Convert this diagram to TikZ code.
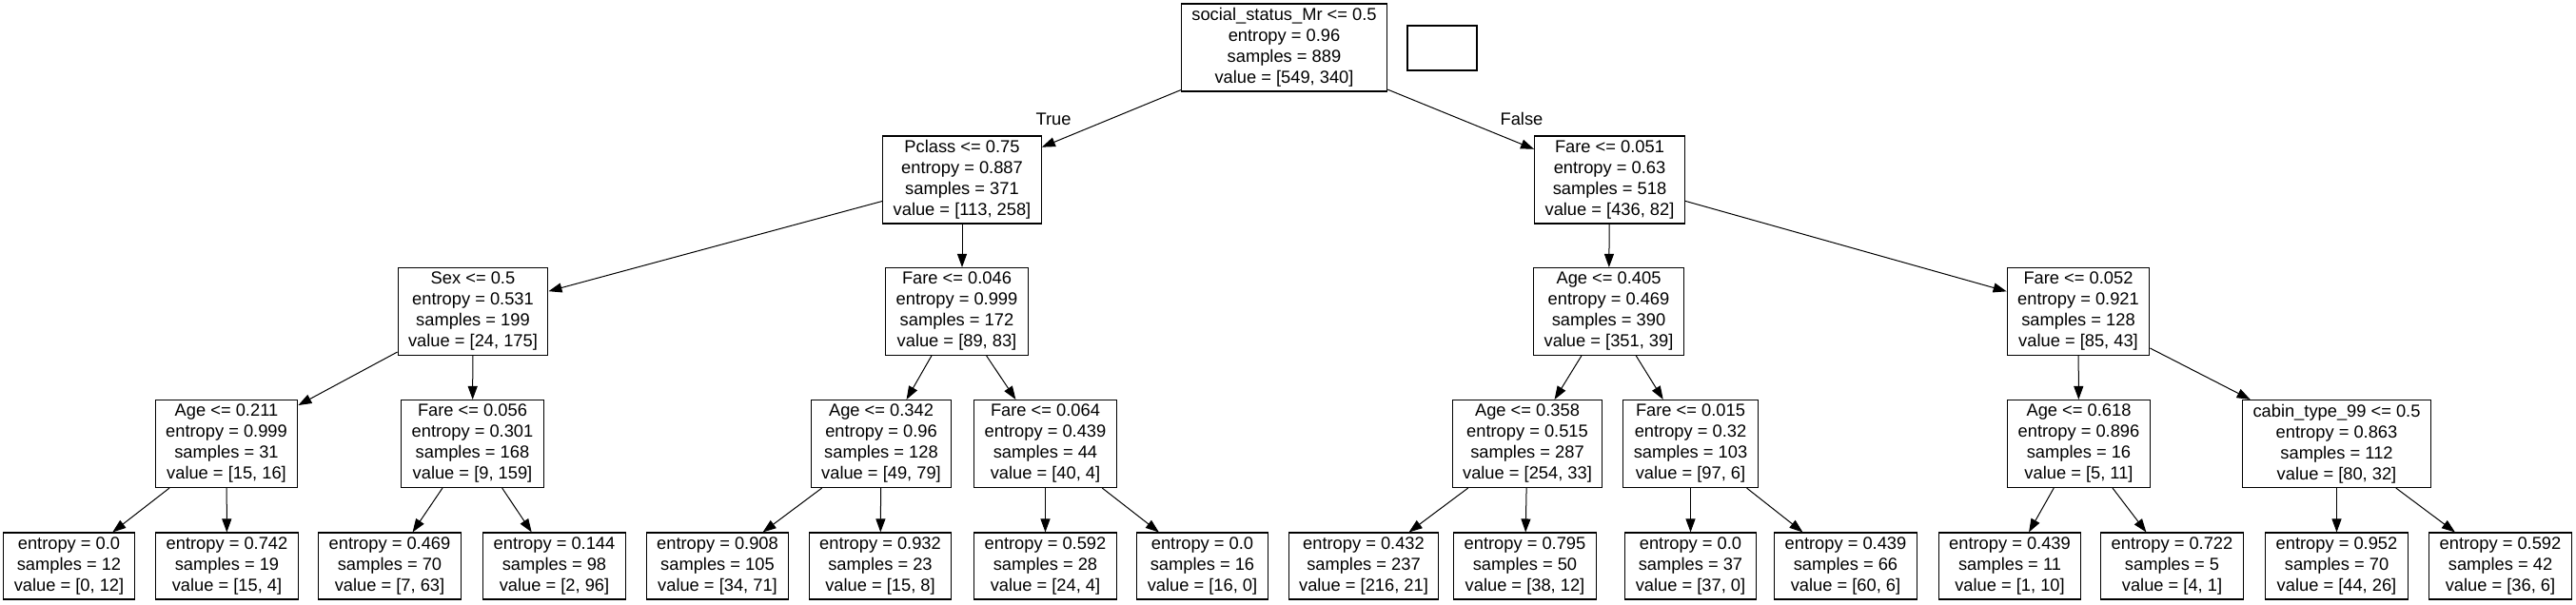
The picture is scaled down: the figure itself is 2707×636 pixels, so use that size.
\documentclass[tikz,border=0pt]{standalone}
\usepackage{fontspec}
\setmainfont{Liberation Sans}
\usepackage{tikz}
\usetikzlibrary{arrows.meta}
\newcommand{\treefont}{\fontsize{18.3}{22}\selectfont}
\tikzset{
  decision/.style={
    draw, line width=1.1pt, align=center,
    inner xsep=11pt, inner ysep=0pt,
    minimum height=92pt, font=\treefont
  },
  leaf/.style={decision, minimum height=70pt},
  emptybox/.style={draw, line width=1.1pt, minimum width=73pt, minimum height=47pt},
  link/.style={-{Triangle[length=14pt, width=10pt]}, line width=1pt},
  lbl/.style={font=\treefont},
}

\begin{document}
\begin{tikzpicture}[x=1pt, y=-1pt]
\useasboundingbox (0,0) rectangle (2707,636);
\fill[white] (0,0) rectangle (2707,636);

% --- root and the empty box beside it ---
\node[decision] (root) at (1349.5,50) {social\_status\_Mr <= 0.5\\entropy = 0.96\\samples = 889\\value = [549, 340]};
\node[emptybox] (blank) at (1515.5,50.5) {};

% --- depth 1 ---
\node[decision] (pclass) at (1011,189) {Pclass <= 0.75\\entropy = 0.887\\samples = 371\\value = [113, 258]};
\node[decision] (fareA) at (1691.5,189) {Fare <= 0.051\\entropy = 0.63\\samples = 518\\value = [436, 82]};

% --- depth 2 ---
\node[decision] (sex) at (497,327.5) {Sex <= 0.5\\entropy = 0.531\\samples = 199\\value = [24, 175]};
\node[decision] (fareB) at (1005.5,327.5) {Fare <= 0.046\\entropy = 0.999\\samples = 172\\value = [89, 83]};
\node[decision] (ageA) at (1690.5,327.5) {Age <= 0.405\\entropy = 0.469\\samples = 390\\value = [351, 39]};
\node[decision] (fareC) at (2184,327.5) {Fare <= 0.052\\entropy = 0.921\\samples = 128\\value = [85, 43]};

% --- depth 3 ---
\node[decision] (ageB) at (238,466.5) {Age <= 0.211\\entropy = 0.999\\samples = 31\\value = [15, 16]};
\node[decision] (fareD) at (496.5,466.5) {Fare <= 0.056\\entropy = 0.301\\samples = 168\\value = [9, 159]};
\node[decision] (ageC) at (926,466.5) {Age <= 0.342\\entropy = 0.96\\samples = 128\\value = [49, 79]};
\node[decision] (fareE) at (1098.5,466.5) {Fare <= 0.064\\entropy = 0.439\\samples = 44\\value = [40, 4]};
\node[decision] (ageD) at (1605,466.5) {Age <= 0.358\\entropy = 0.515\\samples = 287\\value = [254, 33]};
\node[decision] (fareF) at (1776.5,466.5) {Fare <= 0.015\\entropy = 0.32\\samples = 103\\value = [97, 6]};
\node[decision] (ageE) at (2184.5,466.5) {Age <= 0.618\\entropy = 0.896\\samples = 16\\value = [5, 11]};
\node[decision] (cabin) at (2455.5,466.5) {cabin\_type\_99 <= 0.5\\entropy = 0.863\\samples = 112\\value = [80, 32]};

% --- leaves ---
\node[leaf] (l1) at (72.5,595) {entropy = 0.0\\samples = 12\\value = [0, 12]};
\node[leaf] (l2) at (238.5,595) {entropy = 0.742\\samples = 19\\value = [15, 4]};
\node[leaf] (l3) at (409.5,595) {entropy = 0.469\\samples = 70\\value = [7, 63]};
\node[leaf] (l4) at (582.5,595) {entropy = 0.144\\samples = 98\\value = [2, 96]};
\node[leaf] (l5) at (754,595) {entropy = 0.908\\samples = 105\\value = [34, 71]};
\node[leaf] (l6) at (925,595) {entropy = 0.932\\samples = 23\\value = [15, 8]};
\node[leaf] (l7) at (1098.5,595) {entropy = 0.592\\samples = 28\\value = [24, 4]};
\node[leaf] (l8) at (1263.5,595) {entropy = 0.0\\samples = 16\\value = [16, 0]};
\node[leaf] (l9) at (1433,595) {entropy = 0.432\\samples = 237\\value = [216, 21]};
\node[leaf] (l10) at (1602.5,595) {entropy = 0.795\\samples = 50\\value = [38, 12]};
\node[leaf] (l11) at (1776.5,595) {entropy = 0.0\\samples = 37\\value = [37, 0]};
\node[leaf] (l12) at (1939.5,595) {entropy = 0.439\\samples = 66\\value = [60, 6]};
\node[leaf] (l13) at (2112,595) {entropy = 0.439\\samples = 11\\value = [1, 10]};
\node[leaf] (l14) at (2282.5,595) {entropy = 0.722\\samples = 5\\value = [4, 1]};
\node[leaf] (l15) at (2455.5,595) {entropy = 0.952\\samples = 70\\value = [44, 26]};
\node[leaf] (l16) at (2627.5,595) {entropy = 0.592\\samples = 42\\value = [36, 6]};

% --- edges ---
\draw[link] (root) -- (pclass);
\draw[link] (root) -- (fareA);
\node[lbl] (lbltrue) at (1107,125) {True};
\node[lbl] (lblfalse) at (1599,125) {False};

\draw[link] (pclass) -- (sex);
\draw[link] (pclass.south) -- (pclass.south |- fareB.north);
\draw[link] (fareA) -- (ageA);
\draw[link] (fareA) -- (fareC);

\draw[link] (sex) -- (ageB);
\draw[link] (sex) -- (fareD);
\draw[link] (fareB) -- (ageC);
\draw[link] (fareB) -- (fareE);
\draw[link] (ageA) -- (ageD);
\draw[link] (ageA) -- (fareF);
\draw[link] (fareC) -- (ageE);
\draw[link] (fareC) -- (cabin);

\draw[link] (ageB) -- (l1);
\draw[link] (ageB) -- (l2);
\draw[link] (fareD) -- (l3);
\draw[link] (fareD) -- (l4);
\draw[link] (ageC) -- (l5);
\draw[link] (ageC) -- (l6);
\draw[link] (fareE) -- (l7);
\draw[link] (fareE) -- (l8);
\draw[link] (ageD) -- (l9);
\draw[link] (ageD) -- (l10);
\draw[link] (fareF) -- (l11);
\draw[link] (fareF) -- (l12);
\draw[link] (ageE) -- (l13);
\draw[link] (ageE) -- (l14);
\draw[link] (cabin) -- (l15);
\draw[link] (cabin) -- (l16);
\end{tikzpicture}
\end{document}
